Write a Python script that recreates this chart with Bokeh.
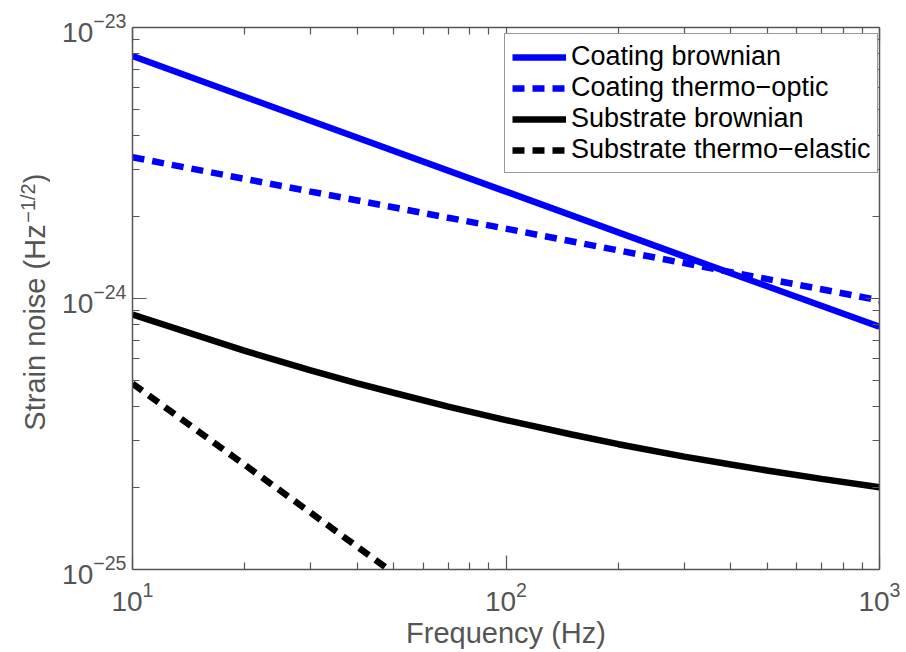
import math
from bokeh.plotting import figure
from bokeh.layouts import row
from bokeh.models import (LogAxis, FixedTicker, Range1d, Legend, LegendItem,
                          CustomJSTickFormatter)
from bokeh.core.properties import value
from bokeh.embed import file_html
from bokeh.resources import INLINE

# ---- data ----
freq_coat_brown = [10, 30, 100, 300, 1000]
coat_brown = [7.85e-24, 4.53e-24, 2.48e-24, 1.43e-24, 7.87e-25]

freq_coat_to = [10, 30, 100, 300, 1000]
coat_to = [3.32e-24, 2.48e-24, 1.81e-24, 1.35e-24, 9.84e-25]

freq_sub_brown = [10, 20, 30, 40, 50, 70, 100, 150, 200, 300, 400, 500, 700, 1000]
sub_brown = [8.73e-25, 6.41e-25, 5.43e-25, 4.86e-25, 4.49e-25, 3.99e-25, 3.56e-25,
             3.15e-25, 2.90e-25, 2.61e-25, 2.44e-25, 2.32e-25, 2.16e-25, 2.01e-25]

freq_sub_te = [10, 20, 30, 50, 100]
sub_te = [4.85e-25, 2.43e-25, 1.62e-25, 9.7e-26, 4.85e-26]

x_major = [10, 100, 1000]
x_minor = [20, 30, 40, 50, 60, 70, 80, 90, 200, 300, 400, 500, 600, 700, 800, 900]
y_major = [1e-25, 1e-24, 1e-23]
y_minor = [m * 1e-25 for m in range(2, 10)] + [m * 1e-24 for m in range(2, 10)]

legend_labels = ["Coating brownian", "Coating thermo\u2212optic",
                 "Substrate brownian", "Substrate thermo\u2212elastic"]
ylabel_parts = ["Strain noise (Hz", "\u22121/2", ")"]

FONT = "Liberation Sans"
GRAY = "#555555"
H = 652
TOP, BOTTOM = 27, 83

# ---- narrow panel carrying the y-axis title (with superscript) ----
# its frame is aligned with the main frame; data y = page pixels counted from the bottom
lab = figure(width=50, height=H, x_range=Range1d(0, 50), y_range=Range1d(BOTTOM, H - TOP),
             output_backend="svg", toolbar_location=None, title=None,
             x_axis_location=None, y_axis_location=None,
             min_border_left=0, min_border_right=0,
             min_border_top=TOP, min_border_bottom=BOTTOM)
lab.outline_line_color = None
lab.xgrid.visible = False
lab.ygrid.visible = False
ang = math.pi / 2
lab.text(x=[34], y=[H - 327], text=[ylabel_parts[0]], angle=ang,
         text_font=value(FONT), text_font_size="29px", text_color=GRAY,
         text_align="center", text_baseline="middle")
lab.text(x=[27], y=[H - 202.5], text=[ylabel_parts[1]], angle=ang,
         text_font=value(FONT), text_font_size="20px", text_color=GRAY,
         text_align="center", text_baseline="middle")
lab.text(x=[34], y=[H - 178], text=[ylabel_parts[2]], angle=ang,
         text_font=value(FONT), text_font_size="29px", text_color=GRAY,
         text_align="center", text_baseline="middle")

# ---- main plot ----
p = figure(width=850, height=H, x_axis_type="log", y_axis_type="log",
           x_range=Range1d(10, 1000), y_range=Range1d(1e-25, 1e-23),
           output_backend="svg", toolbar_location=None,
           min_border_left=82, min_border_right=21, min_border_top=TOP,
           min_border_bottom=BOTTOM)
p.outline_line_color = None
p.background_fill_color = "white"
p.border_fill_color = "white"
p.xgrid.visible = False
p.ygrid.visible = False

def style_axis(ax, ticks, minor, labels=True):
    ax.ticker = FixedTicker(ticks=ticks, minor_ticks=minor)
    ax.axis_line_color = GRAY
    ax.axis_line_width = 1.5
    ax.major_tick_line_color = GRAY
    ax.minor_tick_line_color = GRAY
    ax.major_tick_line_width = 1.2
    ax.minor_tick_line_width = 1.2
    ax.major_tick_in = 14
    ax.major_tick_out = 0
    ax.minor_tick_in = 7
    ax.minor_tick_out = 0
    ax.major_label_text_font = FONT
    ax.major_label_text_color = GRAY
    ax.major_label_text_font_size = "28px"
    if not labels:
        ax.formatter = CustomJSTickFormatter(code="return ''")
        ax.major_label_standoff = 0

xa = p.xaxis[0]
ya = p.yaxis[0]
style_axis(xa, x_major, x_minor)
style_axis(ya, y_major, y_minor)
xa.major_label_standoff = 12
ya.major_label_standoff = 6

xa.axis_label = "Frequency (Hz)"
xa.axis_label_text_font = FONT
xa.axis_label_text_font_size = "29px"
xa.axis_label_text_font_style = "normal"
xa.axis_label_text_color = GRAY
xa.axis_label_standoff = 3

top = LogAxis()
style_axis(top, x_major, x_minor, labels=False)
p.add_layout(top, "above")
right = LogAxis()
style_axis(right, y_major, y_minor, labels=False)
p.add_layout(right, "right")

# ---- lines ----
BLUE = "#0000ff"
LW = 6.5
DASH = "12 8"
r1 = p.line(freq_coat_brown, coat_brown, line_color=BLUE, line_width=LW)
r2 = p.line(freq_coat_to, coat_to, line_color=BLUE, line_width=LW, line_dash=DASH)
r3 = p.line(freq_sub_brown, sub_brown, line_color="black", line_width=LW)
r4 = p.line(freq_sub_te, sub_te, line_color="black", line_width=LW, line_dash=DASH)

legend = Legend(items=[LegendItem(label=t, renderers=[r])
                       for t, r in zip(legend_labels, [r1, r2, r3, r4])],
                location=(372, 396))
legend.label_text_font = FONT
legend.label_text_font_size = "27px"
legend.label_text_color = "black"
legend.glyph_width = 54
legend.glyph_height = 26
legend.label_height = 26
legend.label_standoff = 5
legend.spacing = 0
legend.padding = 7
legend.margin = 0
legend.border_line_color = "#333333"
legend.border_line_width = 1.5
legend.background_fill_color = "white"
legend.background_fill_alpha = 1.0
p.add_layout(legend)

layout = row(lab, p)
open("out.html", "w").write(file_html(layout, INLINE))
